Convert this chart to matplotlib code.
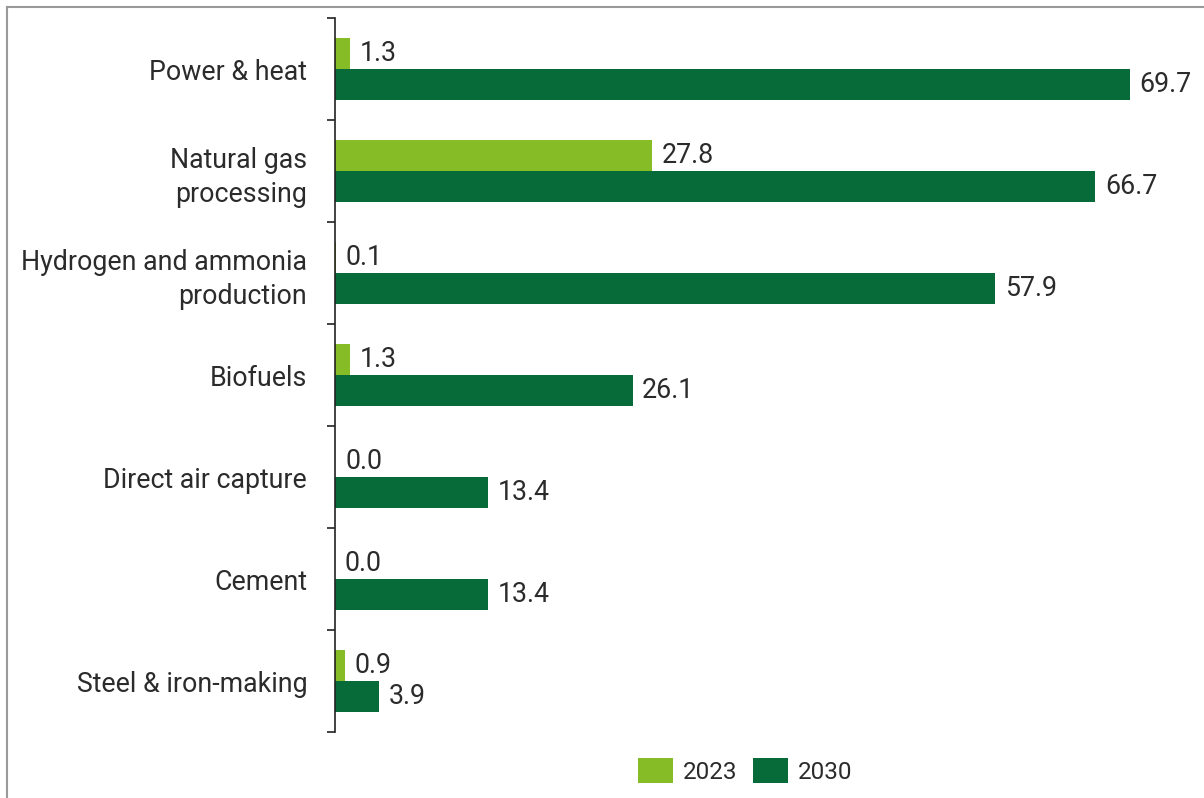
import numpy as np
import matplotlib
matplotlib.use('Agg')
import matplotlib.pyplot as plt
from matplotlib.lines import Line2D
from matplotlib.patches import Patch

plt.rcParams['font.family'] = ['Roboto', 'DejaVu Sans']

# data
categories = ['Power & heat', 'Natural gas\nprocessing', 'Hydrogen and ammonia\nproduction',
              'Biofuels', 'Direct air capture', 'Cement', 'Steel & iron-making']
v2023 = [1.3, 27.8, 0.1, 1.3, 0.03, 0.0, 0.9]
v2030 = [69.7, 66.7, 57.9, 26.1, 13.4, 13.4, 3.9]
series_names = ['2023', '2030']

c_light = '#86BC25'
c_dark = '#066B38'
txt = '#2b2b2b'
fs = 19.3

fig = plt.figure(figsize=(12.04, 7.98), dpi=100)
ax = fig.add_axes([335/1204, 1-732/798, 855/1204, (732-18)/798])

y = np.arange(len(categories))
h = 0.3
ax.barh(y - h/2, v2023, height=h, color=c_light)
ax.barh(y + h/2, v2030, height=h, color=c_dark)

for i in range(len(categories)):
    ax.text(v2023[i] + 0.85, y[i] - h/2, '%.1f' % v2023[i], va='center', ha='left',
            fontsize=fs, color=txt)
    ax.text(v2030[i] + 0.85, y[i] + h/2, '%.1f' % v2030[i], va='center', ha='left',
            fontsize=fs, color=txt)

ax.set_xlim(0, 75)
ax.set_ylim(len(categories) - 0.5, -0.5)

ax.set_yticks(y)
ax.set_yticklabels(categories, fontsize=fs, color=txt, ha='right', linespacing=1.33)
ax.tick_params(axis='y', which='major', length=0, pad=20)
ax.set_yticks(np.arange(len(categories) + 1) - 0.5, minor=True)
ax.tick_params(axis='y', which='minor', length=6, width=1.2, color='#222222')
ax.set_xticks([])

for s in ['top', 'right', 'bottom']:
    ax.spines[s].set_visible(False)
ax.spines['left'].set_color('#222222')
ax.spines['left'].set_linewidth(1.2)

handles = [Patch(facecolor=c_light, label=series_names[0]),
           Patch(facecolor=c_dark, label=series_names[1])]
fig.legend(handles=handles, loc='center', bbox_to_anchor=(745/1204, 1-771/798),
           ncol=2, frameon=False, fontsize=17.5, handlelength=1.45, handleheight=1.2,
           handletextpad=0.4, columnspacing=0.65, labelcolor=txt,
           borderaxespad=0, borderpad=0)

# outer frame (top and left edges visible)
fig.add_artist(Line2D([7/1204, 1.0], [1-7/798, 1-7/798], transform=fig.transFigure,
                      color='#9a9a9a', lw=1.5))
fig.add_artist(Line2D([7/1204, 7/1204], [0.0, 1-7/798], transform=fig.transFigure,
                      color='#9a9a9a', lw=1.5))

fig.savefig('out.png', dpi=100, facecolor='white')
